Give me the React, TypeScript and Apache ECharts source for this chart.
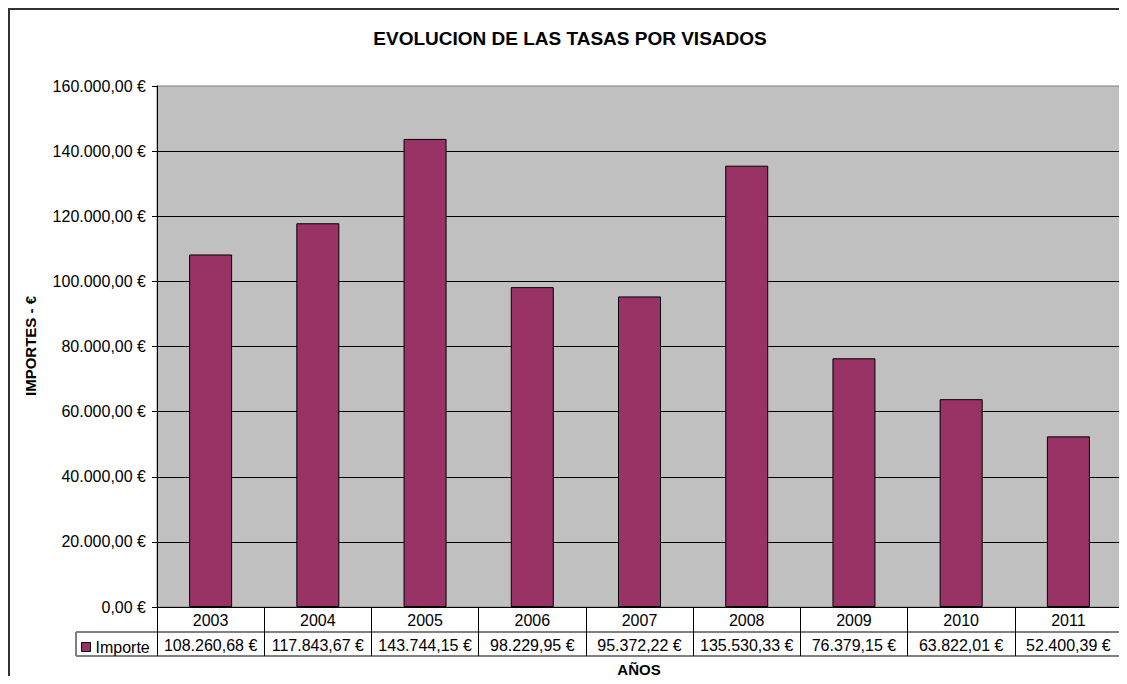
import React, { useEffect, useRef } from "react";
import * as echarts from "echarts";

const years = ["2003", "2004", "2005", "2006", "2007", "2008", "2009", "2010", "2011"];
const importe = [108260.68, 117843.67, 143744.15, 98229.95, 95372.22, 135530.33, 76379.15, 63822.01, 52400.39];
const seriesName = "Importe";
const titleText = "EVOLUCION DE LAS TASAS POR VISADOS";
const yTitle = "IMPORTES - €";
const xTitle = "AÑOS";

function euro(v: number): string {
  const [i, d] = v.toFixed(2).split(".");
  return i.replace(/\B(?=(\d{3})+(?!\d))/g, ".") + "," + d + " €";
}

const FONT = "Liberation Sans, Arial, sans-serif";

export default function App() {
  const ref = useRef<HTMLDivElement>(null);
  useEffect(() => {
    if (!ref.current) return;
    const chart = echarts.init(ref.current, null, { renderer: "svg" });
    const gl = { left: 149, top: 78, width: 965, height: 521 };
    const gray = "#808080";
    chart.setOption({
      animation: false,
      backgroundColor: "#ffffff",
      textStyle: { fontFamily: FONT },
      grid: {
        ...gl,
        show: true,
        backgroundColor: "#C0C0C0",
        borderColor: gray,
        borderWidth: 1,
        containLabel: false,
      },
      legend: {
        data: [seriesName],
        left: 73,
        top: 631,
        padding: 0,
        itemWidth: 9,
        itemHeight: 9,
        icon: "rect",
        itemStyle: { borderColor: "#000", borderWidth: 1 },
        textStyle: { fontSize: 16, color: "#000", fontFamily: FONT },
      },
      xAxis: [
        {
          type: "category",
          data: years,
          position: "bottom",
          axisLine: { show: true, lineStyle: { color: "#000", width: 1 } },
          axisTick: { show: true, inside: false, length: 49, interval: 0, lineStyle: { color: "#000" } },
          axisLabel: { color: "#000", fontSize: 16, margin: 5, interval: 0, fontFamily: FONT },
        },
        {
          type: "category",
          data: years,
          position: "bottom",
          offset: 25,
          axisLine: { show: false },
          axisTick: { show: false },
          axisLabel: {
            color: "#000",
            fontSize: 16,
            margin: 5,
            interval: 0,
            hideOverlap: false,
            fontFamily: FONT,
            formatter: (_v: string, idx: number) => euro(importe[idx]),
          },
        },
      ],
      yAxis: {
        type: "value",
        min: 0,
        max: 160000,
        interval: 20000,
        axisLine: { show: true, lineStyle: { color: "#000" } },
        axisTick: { show: true, inside: false, length: 5, lineStyle: { color: "#000" } },
        axisLabel: { color: "#000", fontSize: 16, margin: 11, fontFamily: FONT, formatter: (v: number) => euro(v) },
        splitLine: { show: true, showMaxLine: false, lineStyle: { color: "#000", width: 1 } },
      },
      series: [
        {
          name: seriesName,
          type: "bar",
          xAxisIndex: 0,
          data: importe,
          barWidth: 43,
          itemStyle: { color: "#993366", borderColor: "#000", borderWidth: 1 },
        },
      ],
      graphic: [
        { type: "line", shape: { x1: 1, y1: 0, x2: 1, y2: 668 }, style: { stroke: "#333", lineWidth: 2 } },
        { type: "line", shape: { x1: 0, y1: 1, x2: 1119, y2: 1 }, style: { stroke: "#333", lineWidth: 2 } },
        { type: "line", shape: { x1: 68, y1: 624, x2: 1114, y2: 624 }, style: { stroke: gray, lineWidth: 2 } },
        { type: "line", shape: { x1: 68, y1: 648, x2: 1114, y2: 648 }, style: { stroke: gray, lineWidth: 2 } },
        { type: "line", shape: { x1: 68, y1: 624, x2: 68, y2: 648 }, style: { stroke: gray, lineWidth: 2 } },
        {
          type: "text",
          x: 562,
          y: 30,
          style: { text: titleText, font: `bold 19px ${FONT}`, fill: "#000", align: "center", verticalAlign: "middle" },
        },
        {
          type: "text",
          x: 22,
          y: 338,
          rotation: Math.PI / 2,
          style: { text: yTitle, font: `bold 15px ${FONT}`, fill: "#000", align: "center", verticalAlign: "middle" },
        },
        {
          type: "text",
          x: 631,
          y: 661,
          style: { text: xTitle, font: `bold 15px ${FONT}`, fill: "#000", align: "center", verticalAlign: "middle" },
        },
      ],
    });
    return () => chart.dispose();
  }, []);
  return <div ref={ref} style={{ width: 1119, height: 668 }} />;
}
